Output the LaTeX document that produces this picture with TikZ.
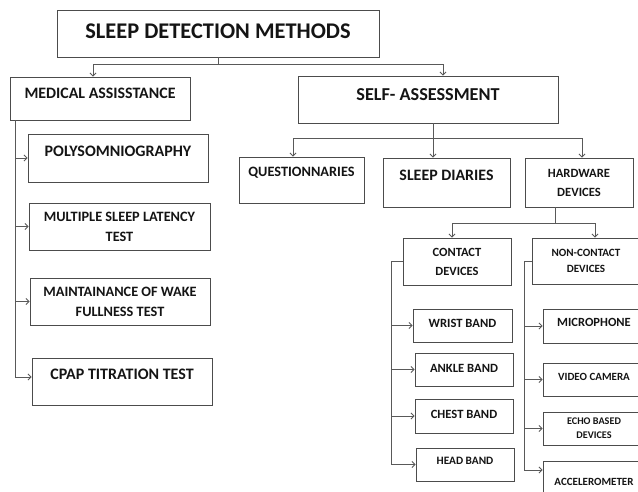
\documentclass[tikz,border=0pt]{standalone}
\usepackage{fontspec}
\setmainfont{Carlito}
\usetikzlibrary{arrows.meta,positioning}
\newcommand{\sz}[2]{\fontsize{#1}{#2}\selectfont}

\begin{document}
\begin{tikzpicture}[x=1pt,y=-1pt,
  box/.style 2 args={draw=black!70,line width=0.9pt,rectangle,inner sep=0pt,align=center,text=black!92,font=\bfseries\sz{#1}{#2}},
  lift/.style={text depth=#1},
  wire/.style={draw=black!65,line width=0.8pt},
  >={Straight Barb[length=3pt,width=6pt]}]
  \useasboundingbox (0,0) rectangle (638,492);

  \node[box={22.4}{26},minimum width=322pt,minimum height=47pt,lift=4pt]	(0) at (218,33.5)	{SLEEP DETECTION METHODS};
  \node[box={15.9}{20},minimum width=180pt,minimum height=43pt,lift=10pt]	(1) at (100,98.5)	{MEDICAL ASSISSTANCE};
  \node[box={18.2}{22},minimum width=260pt,minimum height=47pt,lift=9pt]	(2) at (428,99.5)	{SELF- ASSESSMENT};
  \node[box={14.3}{20},minimum width=125pt,minimum height=46pt,lift=16pt]	(3) at (301.5,180)	{QUESTIONNARIES};
  \node[box={15.9}{20},minimum width=127pt,minimum height=49pt,lift=14pt]	(4) at (446.5,182.5)	{SLEEP DIARIES};
  \node[box={12.6}{19},minimum width=108pt,minimum height=49pt]		(5) at (579,182.5)	{HARDWARE\\DEVICES};
  \node[box={16}{20},minimum width=180pt,minimum height=48pt,lift=14pt]	(6) at (118,158)	{POLYSOMNIOGRAPHY};
  \node[box={14.3}{20},minimum width=181pt,minimum height=47pt]		(7) at (119.5,226.5)	{MULTIPLE SLEEP LATENCY\\TEST};
  \node[box={14.3}{20},minimum width=180pt,minimum height=47pt]		(8) at (120,301.5)	{MAINTAINANCE OF WAKE\\FULLNESS TEST};
  \node[box={16}{20},minimum width=180pt,minimum height=47pt,lift=14pt]	(9) at (122,381.5)	{CPAP TITRATION TEST};
  \node[box={12.5}{19},minimum width=108pt,minimum height=47pt]		(10) at (457,261.5)	{CONTACT\\DEVICES};
  \node[box={11.1}{16},minimum width=108pt,minimum height=46pt]		(11) at (586,261)	{NON-CONTACT\\DEVICES};
  \node[box={12.6}{16},minimum width=99pt,minimum height=33pt,lift=5pt]	(12) at (462.5,325.5)	{WRIST BAND};
  \node[box={12.6}{16},minimum width=98pt,minimum height=33pt,lift=3pt]	(13) at (464,369.5)	{ANKLE BAND};
  \node[box={12.6}{16},minimum width=98pt,minimum height=34pt,lift=4pt]	(14) at (464,416)	{CHEST BAND};
  \node[box={11.3}{16},minimum width=98pt,minimum height=33pt,lift=8pt]	(15) at (465,464.5)	{HEAD BAND};
  \node[box={12.5}{16},minimum width=102pt,minimum height=34pt,lift=7pt]	(16) at (594,326)	{MICROPHONE};
  \node[box={11}{16},minimum width=102pt,minimum height=33pt,lift=6pt]	(17) at (594,379.5)	{VIDEO CAMERA};
  \node[box={10.2}{14},minimum width=102pt,minimum height=33pt]		(18) at (594,428.5)	{ECHO BASED\\DEVICES};
  \node[box={11}{16},minimum width=102pt,minimum height=41pt]		(19) at (594,481.5)	{ACCELEROMETER};

  \coordinate (m) at ([xshift=-85pt]1.south);
  \coordinate (c) at ([xshift=-11pt]10.west);
  \coordinate (n) at ([xshift=-7pt]11.west);

  \draw[wire,->] (0.south) -- ++(0,7) -| ([xshift=-7pt]1.north);
  \draw[wire,->] (0.south) -- ++(0,7) -| ([xshift=15pt]2.north);
  \draw[wire,->] ([xshift=5pt]2.south) -- ([xshift=-13.5pt]4.north);
  \draw[wire,->] ([xshift=5pt]2.south) ++(0,15) -| ([xshift=-8.5pt]3.north);
  \draw[wire,->] ([xshift=5pt]2.south) ++(0,15) -| ([xshift=3pt]5.north);
  \draw[wire,->] ([xshift=-24pt]5.south) -- ++(0,16) -| ([xshift=-5pt]10.north);
  \draw[wire,->] ([xshift=-24pt]5.south) -- ++(0,16) -| ([xshift=9pt]11.north);

  \draw[wire,->] (m) |- ([yshift=4.5pt]9.west);
  \draw[wire,->] (m |- 6.west) -- (6.west);
  \draw[wire,->] (m |- 7.west) -- (7.west);
  \draw[wire,->] (m |- 8.west) -- (8.west);

  \draw[wire,->] (10.west) -- (c) |- (15.west);
  \draw[wire,->] (c |- 12.west) -- (12.west);
  \draw[wire,->] (c |- 13.west) -- (13.west);
  \draw[wire,->] (c |- 14.west) -- (14.west);

  \draw[wire,->] (11.west) -- (n) |- ([yshift=11.5pt]19.west);
  \draw[wire,->] (n |- 16.west) -- (16.west);
  \draw[wire,->] (n |- 17.west) -- (17.west);
  \draw[wire,->] (n |- 18.west) -- (18.west);
\end{tikzpicture}
\end{document}
